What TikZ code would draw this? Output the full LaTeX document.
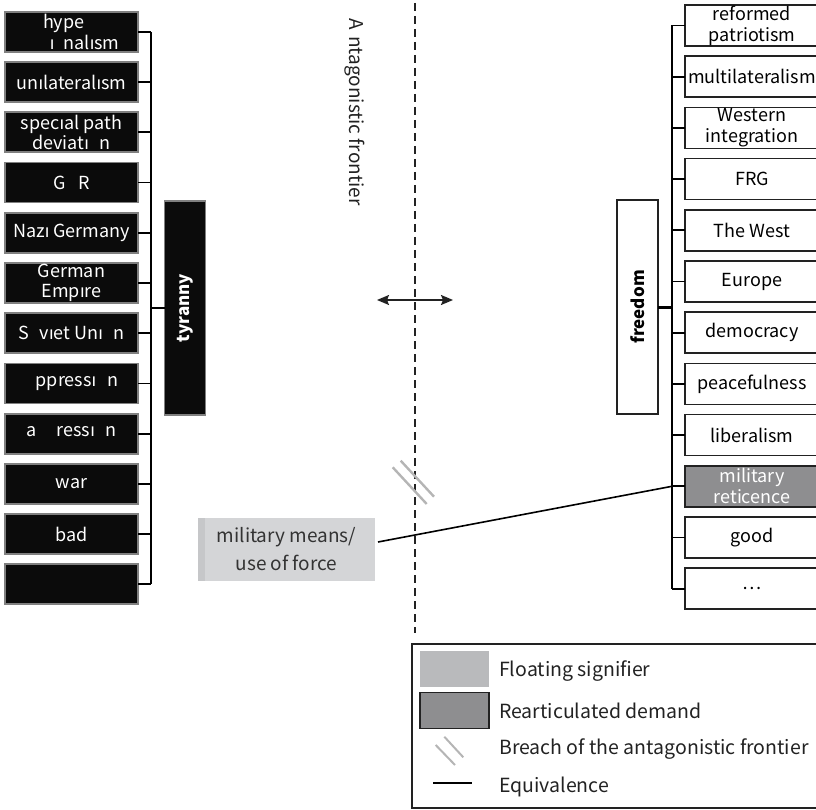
\documentclass[tikz,border=0pt]{standalone}
\usepackage{fontspec}
\setmainfont{Noto Sans CJK SC}
\newfontfamily\dotlessfont{Noto Sans}
\newcommand\dli{{\dotlessfont ı}}
\usetikzlibrary{positioning,arrows.meta}
\definecolor{nearblack}{HTML}{0B0B0B}
\definecolor{edgegray}{HTML}{808080}
\definecolor{darkline}{HTML}{222222}
\definecolor{floatgray}{HTML}{D4D5D7}
\definecolor{floatedge}{HTML}{C6C7C9}
\definecolor{floatkeygray}{HTML}{B9BABC}
\definecolor{reartgray}{HTML}{8E8E90}
\definecolor{breachgray}{HTML}{B5B5B5}
\definecolor{textgray}{HTML}{333333}

\begin{document}
\begin{tikzpicture}[x=1pt, y=-1pt,
    lbox/.style={rectangle, draw=edgegray, line width=1.8pt, fill=nearblack, text=white, minimum width=133pt, minimum height=40pt, inner sep=0pt, outer sep=0pt, align=center, font=\fontsize{18}{20.5}\selectfont},
    rbox/.style={rectangle, draw=darkline, line width=1.5pt, fill=white, minimum width=134pt, minimum height=41pt, inner sep=0pt, outer sep=0pt, align=center, font=\fontsize{18}{21}\selectfont},
    rearticulated/.style={fill=reartgray, text=white},
    core/.style={rectangle, draw=darkline, line width=1.5pt, minimum width=41pt, minimum height=214pt, inner sep=0pt, outer sep=0pt, font=\fontsize{17}{19}\selectfont\bfseries},
    floating/.style={rectangle, fill=floatgray, minimum width=177pt, minimum height=63pt, inner sep=0pt, text=textgray, align=center, font=\fontsize{19}{28}\selectfont},
    bracket/.style={line width=1.8pt, draw=black},
    equiv/.style={line width=1.6pt, draw=black},
    breach/.style={line width=2.4pt, draw=breachgray},
    frontier/.style={line width=1.2pt, dash pattern=on 8pt off 5pt, draw=darkline},
    legendbox/.style={rectangle, draw=darkline, line width=1.5pt, minimum width=410pt, minimum height=164pt},
    swatch/.style={rectangle, minimum width=69pt, minimum height=36pt, inner sep=0pt},
    legendtext/.style={anchor=west, inner sep=0pt, text=darkline, font=\fontsize{19.5}{22}\selectfont},
  ]
  \useasboundingbox (0,0) rectangle (816,810);
  % tyranny side
  \node [lbox] (hyper) at (71.5,32) {\makebox[96pt][l]{\hspace*{19.5pt}hype}\\\makebox[96pt][r]{\dli\hspace{9pt}nal\dli sm}};
  \node [lbox, below=10.2pt of hyper] (unilat) {un\dli lateral\dli sm};
  \node [lbox, below=10.2pt of unilat] (specialpath) {spec\dli al path\\deviat\dli\phantom{o}n};
  \node [lbox, below=10.2pt of specialpath] (gdr) {G\phantom{D}R};
  \node [lbox, below=10.2pt of gdr] (nazi) {Naz\dli{} Germany};
  \node [lbox, below=10.2pt of nazi] (empire) {German\\Emp\dli re};
  \node [lbox, below=10.2pt of empire] (soviet) {S\phantom{o}v\dli et Un\dli\phantom{o}n};
  \node [lbox, below=10.2pt of soviet] (oppression) {\phantom{o}ppress\dli\phantom{o}n};
  \node [lbox, below=10.2pt of oppression] (aggression) {a\phantom{gg}ress\dli\phantom{o}n};
  \node [lbox, below=10.2pt of aggression] (war) {war};
  \node [lbox, below=10.2pt of war] (bad) {bad};
  \node [lbox, below=10.2pt of bad] (lempty) {};
  \node [core, fill=nearblack, draw=edgegray, text=white] (tyranny) at (185,308) {\rotatebox{90}{tyranny}};
  \coordinate (lbar) at (151,0);
  \draw [bracket] (lbar |- hyper) -- (lbar |- lempty);
  \draw [bracket] (hyper) -- (hyper -| lbar);
  \draw [bracket] (unilat) -- (unilat -| lbar);
  \draw [bracket] (specialpath) -- (specialpath -| lbar);
  \draw [bracket] (gdr) -- (gdr -| lbar);
  \draw [bracket] (nazi) -- (nazi -| lbar);
  \draw [bracket] (empire) -- (empire -| lbar);
  \draw [bracket] (soviet) -- (soviet -| lbar);
  \draw [bracket] (oppression) -- (oppression -| lbar);
  \draw [bracket] (aggression) -- (aggression -| lbar);
  \draw [bracket] (war) -- (war -| lbar);
  \draw [bracket] (bad) -- (bad -| lbar);
  \draw [bracket] (lempty) -- (lempty -| lbar);
  \draw [bracket] (tyranny) -- (tyranny -| lbar);
  % freedom side
  \node [rbox] (patriotism) at (752,25.5) {reformed\\patriotism};
  \node [rbox, below=10.2pt of patriotism] (multilat) {multilateralism};
  \node [rbox, below=10.2pt of multilat] (westint) {Western\\integration};
  \node [rbox, below=10.2pt of westint] (frg) {FRG};
  \node [rbox, below=10.2pt of frg] (thewest) {The West};
  \node [rbox, below=10.2pt of thewest] (europe) {Europe};
  \node [rbox, below=10.2pt of europe] (democracy) {democracy};
  \node [rbox, below=10.2pt of democracy] (peace) {peacefulness};
  \node [rbox, below=10.2pt of peace] (liberalism) {liberalism};
  \node [rbox, rearticulated, below=10.2pt of liberalism] (reticence) {military\\reticence};
  \node [rbox, below=10.2pt of reticence] (good) {good};
  \node [rbox, below=10.2pt of good] (etc) {\ldots};
  \node [core, fill=white] (freedom) at (637.5,307) {\rotatebox{90}{freedom}};
  \coordinate (rbar) at (672,0);
  \draw [bracket] (rbar |- patriotism) -- (rbar |- etc);
  \draw [bracket] (patriotism) -- (patriotism -| rbar);
  \draw [bracket] (multilat) -- (multilat -| rbar);
  \draw [bracket] (westint) -- (westint -| rbar);
  \draw [bracket] (frg) -- (frg -| rbar);
  \draw [bracket] (thewest) -- (thewest -| rbar);
  \draw [bracket] (europe) -- (europe -| rbar);
  \draw [bracket] (democracy) -- (democracy -| rbar);
  \draw [bracket] (peace) -- (peace -| rbar);
  \draw [bracket] (liberalism) -- (liberalism -| rbar);
  \draw [bracket] (reticence) -- (reticence -| rbar);
  \draw [bracket] (good) -- (good -| rbar);
  \draw [bracket] (etc) -- (etc -| rbar);
  \draw [bracket, line width=3pt] (freedom) -- (freedom -| rbar);
  % frontier
  \coordinate (ftop) at (415,3);
  \coordinate (fbot) at (415,633);
  \draw [frontier] (ftop) -- (fbot);
  \node [text=darkline, font=\fontsize{19}{22}\selectfont] (frontierlabel) at (355,112) {\rotatebox{-90}{A\hspace{2pt} ntagonistic frontier}};
  \coordinate (aleft) at (377,300);
  \coordinate (aright) at (453,300);
  \draw [{Stealth[length=12pt,width=10pt,inset=2pt]}-{Stealth[length=12pt,width=10pt,inset=2pt]}, line width=1.8pt, darkline] (aleft) -- (aright);
  % floating signifier
  \node [floating] (means) at (286.5,549.5) {military means/\\use of force};
  \fill [floatedge] (means.north west) rectangle ([xshift=7pt]means.south west);
  \coordinate (eqstart) at (378,542);
  \draw [equiv] (eqstart) -- (reticence -| rbar);
  \draw [breach] (392.7,467.3) -- (426.7,504);
  \draw [breach] (400.7,460.7) -- (434,496.7);
  % legend
  \node [legendbox] (legend) at (617,726) {};
  \node [swatch, fill=floatkeygray] (floatkey) at (454.5,669) {};
  \node [swatch, fill=reartgray, draw=darkline, line width=1.5pt] (reartkey) at (454.5,710.5) {};
  \draw [breach, line width=2pt] (435.7,745) -- (455,765);
  \draw [breach, line width=2pt] (444.3,736.7) -- (463.3,757.3);
  \coordinate (eqkeyl) at (433,783);
  \coordinate (eqkeyr) at (472,783);
  \draw [equiv] (eqkeyl) -- (eqkeyr);
  \node [legendtext] (floattext) at (499,671) {Floating signifier};
  \node [legendtext] (reorttext) at (499,711) {Rearticulated demand};
  \node [legendtext] (breachtext) at (499,749) {Breach of the antagonistic frontier};
  \node [legendtext] (equivtext) at (499,787) {Equivalence};
\end{tikzpicture}
\end{document}
